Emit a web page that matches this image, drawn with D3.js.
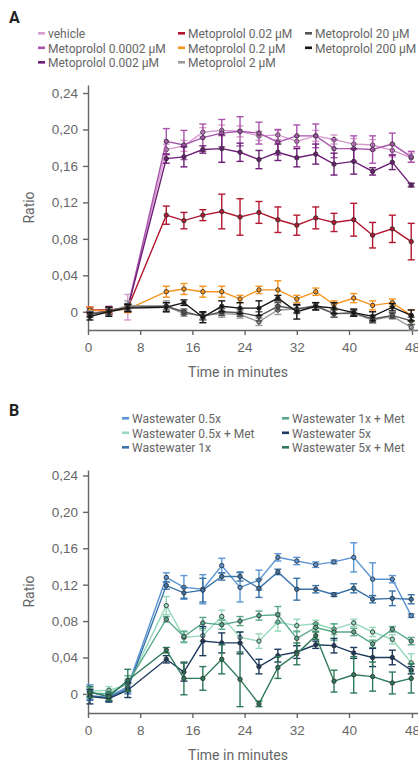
<!DOCTYPE html>
<html>
<head>
<meta charset="utf-8">
<script src="https://cdn.jsdelivr.net/npm/d3@7"></script>
<style>
  body { margin: 0; background: #fff; }
  svg { display: block; font-family: Roboto, "Noto Sans", sans-serif; }
  .axis text { font-size: 13.5px; fill: #666; }
  .axis path, .axis line { stroke: #666; stroke-width: 1.4; }
  .legend text { font-size: 12px; fill: #666; }
  .title { font-size: 16px; font-weight: bold; fill: #222; }
  .label { font-size: 14px; fill: #666; }
</style>
</head>
<body>
<div id="chart"></div>
<script>
// sampling times (minutes)
const times = [0.3, 3.2, 6.1, 12.0, 14.7, 17.6, 20.5, 23.3, 26.2, 29.1, 32.0, 34.9, 37.7, 40.6, 43.0, 45.5, 47.9];
const xTicks = [0, 8, 16, 24, 32, 40, 48];
const yTicks = [0, 0.04, 0.08, 0.12, 0.16, 0.20, 0.24];

// panel A
const namesA = ["vehicle", "Metoprolol 0.0002 µM", "Metoprolol 0.002 µM", "Metoprolol 0.02 µM",
  "Metoprolol 0.2 µM", "Metoprolol 2 µM", "Metoprolol 20 µM", "Metoprolol 200 µM"];
const colorsA = ["#d79bcd", "#a955ad", "#6d1f77", "#b3172f", "#f7941d", "#9a9a9a", "#555555", "#141414"];

const vehicle = [0.002, 0.001, 0.005, 0.178, 0.182, 0.197, 0.199, 0.198, 0.193, 0.194, 0.187, 0.193, 0.189, 0.184, 0.183, 0.177, 0.169];
const vehicleErr = [0.003, 0.003, 0.014, 0.006, 0.006, 0.005, 0.006, 0.006, 0.005, 0.005, 0.006, 0.006, 0.005, 0.006, 0.006, 0.007, 0.005];
const meto00002 = [0.001, 0.002, 0.004, 0.187, 0.183, 0.191, 0.196, 0.198, 0.196, 0.186, 0.193, 0.193, 0.179, 0.179, 0.178, 0.184, 0.170];
const meto00002Err = [0.003, 0.004, 0.004, 0.014, 0.016, 0.015, 0.015, 0.016, 0.012, 0.014, 0.012, 0.013, 0.010, 0.014, 0.015, 0.012, 0.006];
const meto0002 = [-0.002, 0.001, 0.004, 0.168, 0.170, 0.178, 0.179, 0.175, 0.167, 0.175, 0.169, 0.173, 0.162, 0.165, 0.154, 0.164, 0.139];
const meto0002Err = [0.003, 0.003, 0.004, 0.005, 0.011, 0.004, 0.015, 0.010, 0.010, 0.009, 0.010, 0.011, 0.012, 0.014, 0.004, 0.008, 0.002];
const meto002 = [0.002, 0.002, 0.004, 0.106, 0.100, 0.106, 0.110, 0.104, 0.109, 0.101, 0.095, 0.103, 0.098, 0.101, 0.084, 0.091, 0.077];
const meto002Err = [0.003, 0.003, 0.004, 0.010, 0.009, 0.006, 0.019, 0.020, 0.012, 0.014, 0.011, 0.012, 0.010, 0.018, 0.014, 0.015, 0.020];
const meto02 = [0.002, 0.001, 0.003, 0.022, 0.025, 0.022, 0.022, 0.014, 0.024, 0.024, 0.014, 0.022, 0.008, 0.015, 0.007, 0.010, -0.004];
const meto02Err = [0.003, 0.003, 0.004, 0.006, 0.006, 0.006, 0.006, 0.004, 0.004, 0.010, 0.004, 0.004, 0.004, 0.005, 0.005, 0.004, 0.006];
const meto2 = [-0.002, 0.000, 0.007, 0.006, -0.002, -0.004, -0.002, -0.003, -0.011, 0.002, 0.003, 0.007, -0.002, -0.002, -0.009, -0.005, -0.017];
const meto2Err = [0.003, 0.004, 0.005, 0.006, 0.003, 0.004, 0.004, 0.004, 0.004, 0.005, 0.005, 0.003, 0.004, 0.003, 0.003, 0.003, 0.003];
const meto20 = [-0.003, 0.001, 0.005, 0.006, 0.000, -0.005, 0.000, -0.001, -0.005, 0.006, 0.003, 0.006, -0.002, -0.001, -0.008, -0.004, -0.010];
const meto20Err = [0.003, 0.004, 0.004, 0.004, 0.003, 0.004, 0.004, 0.004, 0.005, 0.004, 0.004, 0.004, 0.004, 0.003, 0.004, 0.003, 0.004];
const meto200 = [-0.005, 0.000, 0.004, 0.005, 0.010, -0.006, 0.006, 0.004, 0.004, 0.015, 0.000, 0.006, 0.004, -0.001, -0.005, 0.005, -0.004];
const meto200Err = [0.004, 0.005, 0.004, 0.005, 0.003, 0.006, 0.006, 0.006, 0.008, 0.003, 0.008, 0.004, 0.006, 0.004, 0.005, 0.004, 0.006];

// panel B
const namesB = ["Wastewater 0.5x", "Wastewater 0.5x + Met", "Wastewater 1x",
  "Wastewater 1x + Met", "Wastewater 5x", "Wastewater 5x + Met"];
const colorsB = ["#5b95d5", "#96d9bc", "#3a73a8", "#5aa88a", "#1c3a5e", "#2e7a5a"];

const ww05 = [0.002, -0.003, 0.008, 0.128, 0.117, 0.115, 0.141, 0.117, 0.125, 0.150, 0.146, 0.142, 0.145, 0.150, 0.126, 0.126, 0.086];
const ww05Err = [0.008, 0.005, 0.006, 0.005, 0.013, 0.016, 0.008, 0.016, 0.011, 0.004, 0.004, 0.003, 0.002, 0.016, 0.018, 0.004, 0.002];
const ww05Met = [0.003, 0.004, 0.010, 0.097, 0.062, 0.064, 0.085, 0.062, 0.058, 0.079, 0.075, 0.077, 0.071, 0.078, 0.068, 0.060, 0.034];
const ww05MetErr = [0.004, 0.004, 0.006, 0.010, 0.006, 0.006, 0.007, 0.006, 0.008, 0.010, 0.007, 0.004, 0.006, 0.004, 0.005, 0.005, 0.010];
const ww1 = [-0.002, -0.004, 0.006, 0.119, 0.111, 0.114, 0.129, 0.129, 0.116, 0.134, 0.115, 0.115, 0.109, 0.116, 0.104, 0.105, 0.104];
const ww1Err = [0.005, 0.004, 0.006, 0.004, 0.006, 0.013, 0.004, 0.005, 0.010, 0.003, 0.012, 0.004, 0.002, 0.005, 0.004, 0.008, 0.005];
const ww1Met = [0.001, 0.000, 0.012, 0.082, 0.063, 0.078, 0.076, 0.080, 0.086, 0.087, 0.061, 0.073, 0.068, 0.068, 0.055, 0.071, 0.058];
const ww1MetErr = [0.004, 0.003, 0.008, 0.003, 0.006, 0.006, 0.005, 0.005, 0.005, 0.009, 0.008, 0.004, 0.009, 0.004, 0.004, 0.003, 0.004];
const ww5 = [-0.003, -0.005, 0.004, 0.038, 0.024, 0.058, 0.056, 0.056, 0.030, 0.042, 0.046, 0.054, 0.053, 0.045, 0.040, 0.040, 0.026];
const ww5Err = [0.008, 0.004, 0.008, 0.004, 0.010, 0.016, 0.011, 0.012, 0.008, 0.007, 0.007, 0.004, 0.008, 0.006, 0.010, 0.008, 0.004];
const ww5Met = [0.002, -0.003, 0.015, 0.048, 0.017, 0.017, 0.038, 0.016, -0.011, 0.029, 0.044, 0.064, 0.014, 0.021, 0.019, 0.012, 0.017];
const ww5MetErr = [0.006, 0.004, 0.012, 0.003, 0.018, 0.013, 0.016, 0.030, 0.003, 0.012, 0.012, 0.004, 0.012, 0.020, 0.016, 0.012, 0.016];

const seriesA = [[vehicle, vehicleErr], [meto00002, meto00002Err], [meto0002, meto0002Err], [meto002, meto002Err],
  [meto02, meto02Err], [meto2, meto2Err], [meto20, meto20Err], [meto200, meto200Err]];
const seriesB = [[ww05, ww05Err], [ww05Met, ww05MetErr], [ww1, ww1Err],
  [ww1Met, ww1MetErr], [ww5, ww5Err], [ww5Met, ww5MetErr]];

const width = 418, height = 762;
const svg = d3.select("#chart").append("svg")
  .attr("width", width).attr("height", height);

const fmt = d => d === 0 ? "0" : d3.format(".2f")(d).replace(".", ",");

function panel(opts) {
  const x = d3.scaleLinear().domain([0, 40, 48, 48.8]).range([88, 349, 412, 418]);
  const y = d3.scaleLinear().domain(opts.yDomain).range(opts.yRange);

  svg.append("g").attr("class", "axis")
    .attr("transform", `translate(0,${opts.yRange[0]})`)
    .call(d3.axisBottom(x).tickValues(xTicks).tickSize(5).tickSizeOuter(0).tickPadding(7));

  svg.append("g").attr("class", "axis")
    .attr("transform", "translate(88,0)")
    .call(d3.axisLeft(y).tickValues(yTicks).tickFormat(fmt).tickSize(5).tickSizeOuter(0).tickPadding(5));

  svg.append("text").attr("class", "label")
    .attr("x", 238).attr("y", opts.yRange[0] + 47)
    .attr("text-anchor", "middle").text("Time in minutes");

  const yMid = (opts.yRange[0] + opts.yRange[1]) / 2;
  svg.append("text").attr("class", "label")
    .attr("transform", `translate(34,${yMid}) rotate(-90)`)
    .attr("text-anchor", "middle").text("Ratio");

  const line = d3.line().x((d, i) => x(times[i])).y(d => y(d));

  opts.series.forEach(([vals, errs], s) => {
    const c = opts.colors[s];
    const g = svg.append("g");
    g.append("path").datum(vals)
      .attr("fill", "none").attr("stroke", c).attr("stroke-width", 1.4)
      .attr("d", line);

    vals.forEach((v, i) => {
      const cx = x(times[i]);
      const y0 = y(v - errs[i]), y1 = y(v + errs[i]);
      g.append("line").attr("x1", cx).attr("x2", cx).attr("y1", y0).attr("y2", y1)
        .attr("stroke", c).attr("stroke-width", 1.4);
      [y0, y1].forEach(yy => g.append("line")
        .attr("x1", cx - 3.5).attr("x2", cx + 3.5).attr("y1", yy).attr("y2", yy)
        .attr("stroke", c).attr("stroke-width", 1.4));
    });

    g.selectAll("circle").data(vals).join("circle")
      .attr("cx", (d, i) => x(times[i])).attr("cy", d => y(d))
      .attr("r", 2.2).attr("fill", c).attr("stroke", "#333").attr("stroke-width", 0.9);
  });

  svg.append("text").attr("class", "title")
    .attr("x", 9).attr("y", opts.titleY).text(opts.title);

  const leg = svg.append("g").attr("class", "legend");
  opts.names.forEach((n, i) => {
    const col = Math.floor(i / 3), row = i % 3;
    const lx = opts.legendX[col], ly = opts.legendY + row * 14.5;
    leg.append("rect").attr("x", lx).attr("y", ly - 5).attr("width", 7).attr("height", 2.6)
      .attr("fill", opts.colors[i]);
    leg.append("text").attr("x", lx + 10).attr("y", ly).attr("dy", "0.1em").text(n);
  });
}

panel({
  title: "A", titleY: 23,
  yDomain: [-0.02, 0.2488], yRange: [330, 85],
  series: seriesA, colors: colorsA, names: namesA,
  legendX: [38, 178, 305], legendY: 37
});

panel({
  title: "B", titleY: 416,
  yDomain: [-0.021, 0.246], yRange: [713, 470],
  series: seriesB, colors: colorsB, names: namesB,
  legendX: [122, 282], legendY: 422
});
</script>
</body>
</html>
